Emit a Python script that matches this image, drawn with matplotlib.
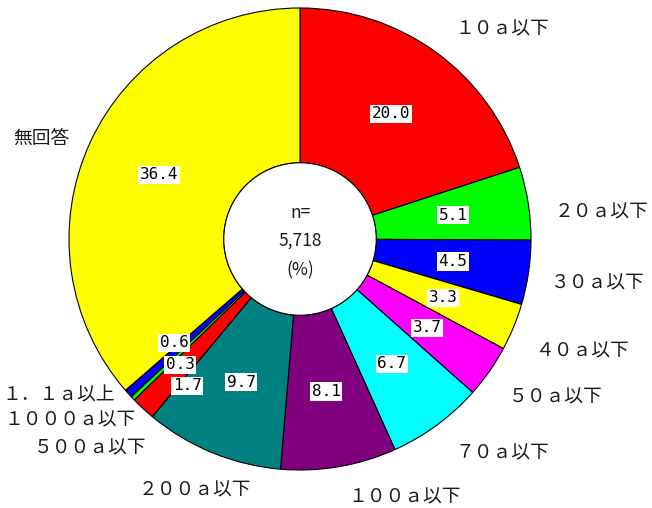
import matplotlib
matplotlib.use("Agg")
import matplotlib.pyplot as plt
import numpy as np

plt.rcParams['font.family'] = ['Noto Sans CJK JP', 'DejaVu Sans']

categories = ["１０ａ以下", "２０ａ以下", "３０ａ以下", "４０ａ以下", "５０ａ以下",
              "７０ａ以下", "１００ａ以下", "２００ａ以下", "５００ａ以下",
              "１０００ａ以下", "１．１ａ以上", "無回答"]
values = [20.0, 5.1, 4.5, 3.3, 3.7, 6.7, 8.1, 9.7, 1.7, 0.3, 0.6, 36.4]
colors = ["#FF0000", "#00FF00", "#0000FF", "#FFFF00", "#FF00FF", "#00FFFF",
          "#800080", "#008080", "#FF0000", "#00FF00", "#0000FF", "#FFFF00"]
center_lines = ["n=", "5,718", "(%)"]

# layout (data units, outer radius = 1)
cat_label_pos = [(0.874, 0.909), (1.307, 0.117), (1.290, -0.190), (1.225, -0.485),
                 (1.108, -0.684), (0.874, -0.926), (0.455, -1.117), (-0.455, -1.087),
                 (-0.909, -0.905), (-0.996, -0.784), (-1.043, -0.675), (-1.121, 0.437)]
small_val_pos = {8: (-0.489, -0.636), 9: (-0.519, -0.545), 10: (-0.545, -0.450)}

R_PX = 231.0
CX, CY = 300.0, 239.0
W, H = 652, 508

fig = plt.figure(figsize=(W / 100, H / 100), dpi=100)
ax = fig.add_axes([0, 0, 1, 1])

inner = 0.33
wedges, _ = ax.pie(values, colors=colors, startangle=90, counterclock=False,
                   radius=1.0,
                   wedgeprops=dict(width=1 - inner, edgecolor='black', linewidth=0.8),
                   center=(0, 0), frame=False)
ax.set_xlim(-CX / R_PX, (W - CX) / R_PX)
ax.set_ylim(-(H - CY) / R_PX, CY / R_PX)
ax.set_aspect('auto')
ax.axis('off')

circ = plt.Circle((0, 0), inner, facecolor='white', edgecolor='black',
                  linewidth=0.8, zorder=3)
ax.add_patch(circ)

total = sum(values)
cum = 0
for i, v in enumerate(values):
    mid = 90 - (cum + v / 2) / total * 360
    cum += v
    r = (1 + inner) / 2 + 0.005
    x, y = r * np.cos(np.radians(mid)), r * np.sin(np.radians(mid))
    if i in small_val_pos:
        x, y = small_val_pos[i]
    ax.text(x, y, f"{v:.1f}", ha='center', va='center', fontsize=11.5,
            family='DejaVu Sans Mono', zorder=5,
            bbox=dict(boxstyle='square,pad=0.1', facecolor='white', edgecolor='none'))

for name, (x, y) in zip(categories, cat_label_pos):
    ax.text(x, y, name, ha='center', va='center', fontsize=13.5, color='#1a1a1a')

center_y = [0.113, -0.009, -0.134]
for line, yy in zip(center_lines, center_y):
    ax.text(0, yy, line, ha='center', va='center', fontsize=12.5,
            color='#1a1a1a', zorder=6)

fig.savefig("out.png", dpi=100)
